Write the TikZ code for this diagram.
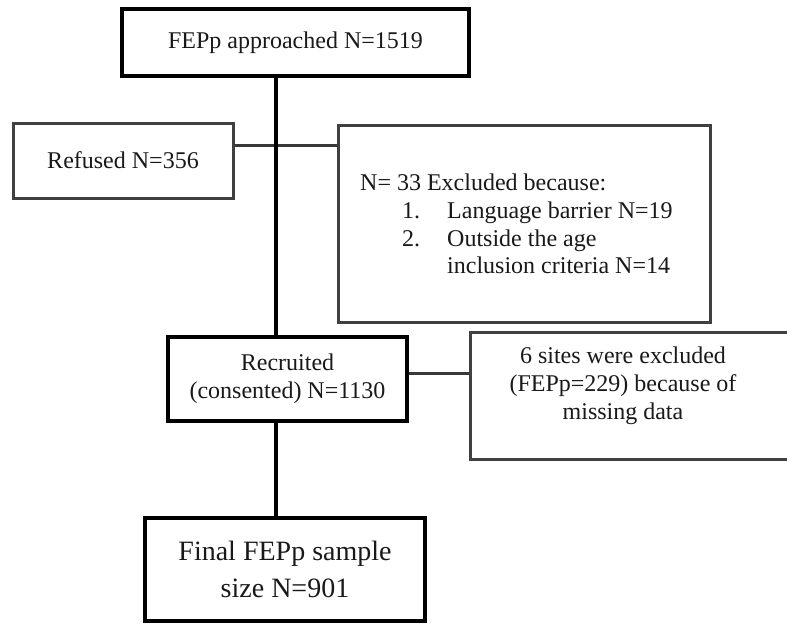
\documentclass[tikz,border=0pt]{standalone}
\usepackage{fontspec}
\setmainfont{Liberation Serif}
\begin{document}
\begin{tikzpicture}[x=1pt,y=-1pt,
  thickbox/.style={draw=black, line width=3.8pt, rectangle, inner sep=0pt, fill=white},
  thinbox/.style={draw=black!75, line width=3pt, rectangle, inner sep=0pt, fill=white},
  txt/.style={font=\fontsize{24}{28}\selectfont, text=black!90, align=center},
  bigtxt/.style={font=\fontsize{28}{37}\selectfont, text=black!90, align=center},
  spine/.style={line width=3.8pt, black},
  branch/.style={line width=3pt, black!78}]
\useasboundingbox (0,0) rectangle (787,624);
\clip (0,0) rectangle (787,624);
\fill[white] (0,0) rectangle (787,624);

% boxes
\node[thickbox, txt, minimum width=347pt, minimum height=67pt] (top) at (295.5,42.5) {FEPp approached N=1519};
\node[thinbox, txt, minimum width=220pt, minimum height=75pt] (ref) at (123,160.5) {Refused N=356};
\node[thinbox, minimum width=372pt, minimum height=197pt] (excl) at (524,223.5) {};
\node[thickbox, txt, minimum width=239pt, minimum height=84pt] (rec) at (287.5,379) {Recruited\\(consented) N=1130};
\node[thinbox, minimum width=330pt, minimum height=127pt] (sites) at (635,395.5) {};
\node[thickbox, bigtxt, minimum width=280pt, minimum height=103pt] (final) at (285,569.5) {Final FEPp sample\\size N=901};

% texts of the open boxes
\node[txt, anchor=base west, inner sep=0pt] (ex0) at (360,190) {N= 33 Excluded because:};
\node[txt, anchor=base west, inner sep=0pt] (n1) at (402,218) {1.};
\node[txt, anchor=base west, inner sep=0pt] (t1) at (447,218) {Language barrier N=19};
\node[txt, anchor=base west, inner sep=0pt] (n2) at (402,246) {2.};
\node[txt, anchor=base west, inner sep=0pt] (t2) at (447,246) {Outside the age};
\node[txt, anchor=base west, inner sep=0pt] (t3) at (447,273) {inclusion criteria N=14};
\node[txt, inner sep=0pt] (sitestext) at (623,386) {6 sites were excluded\\(FEPp=229) because of\\missing data};

% connectors
\coordinate (sp) at (276,0);
\coordinate (b1) at (0,145);
\coordinate (b2) at (0,373);
\draw[branch] (ref.east |- b1) -- (excl.west |- b1);
\draw[branch] (rec.east |- b2) -- (sites.west |- b2);
\draw[spine] (top.south -| sp) -- (rec.north -| sp);
\draw[spine] (rec.south -| sp) -- (final.north -| sp);
\end{tikzpicture}
\end{document}
